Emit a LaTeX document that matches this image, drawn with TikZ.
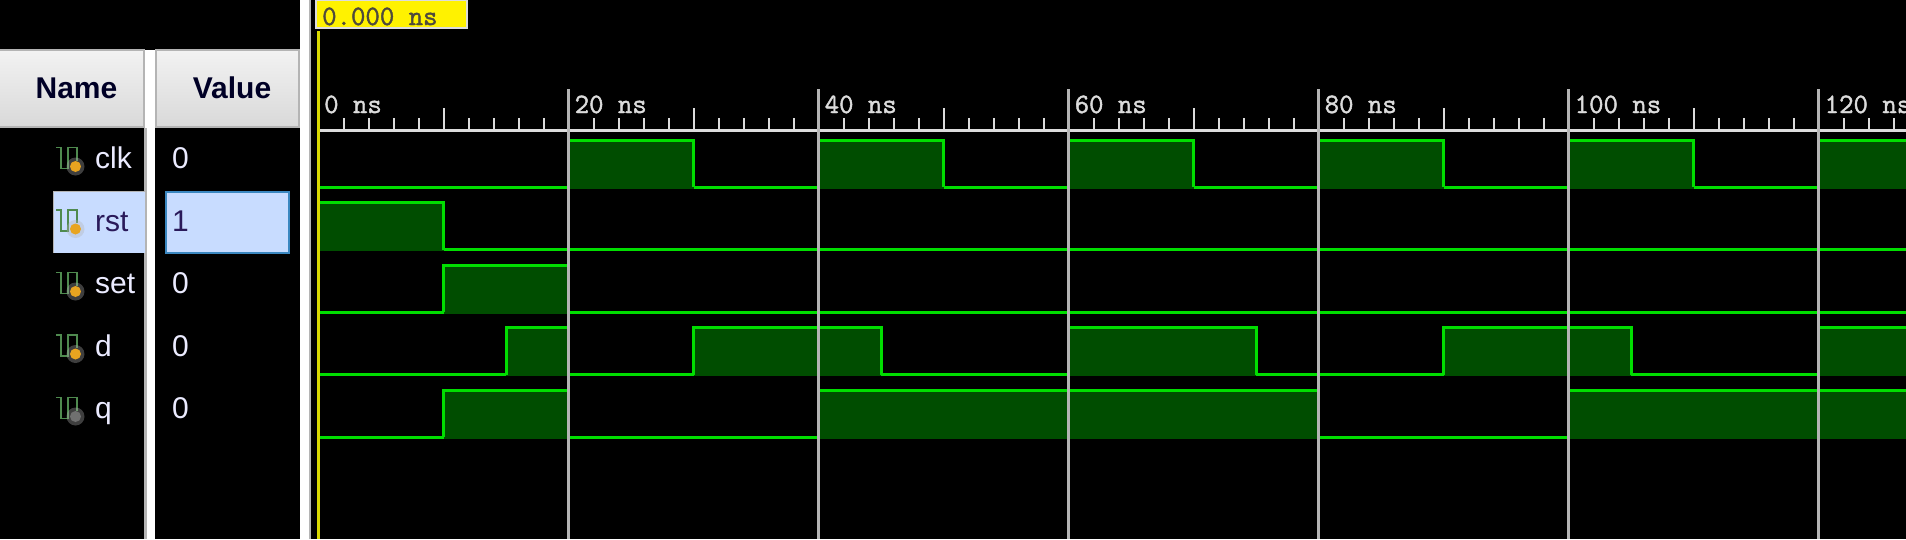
\documentclass[tikz,border=0pt]{standalone}
\usepackage{fontspec}
\setmainfont{Liberation Sans}
\newfontfamily\rulerfont[FakeBold=1.5]{Latin Modern Mono}
\usepackage{xcolor}
\usetikzlibrary{positioning, calc}

\definecolor{wavegreen}{HTML}{00DE00}
\definecolor{wavedark}{HTML}{004D00}
\definecolor{gridgray}{HTML}{B4B4B4}
\definecolor{rulergray}{HTML}{DCDCDC}
\definecolor{cursoryellow}{HTML}{D8D800}
\definecolor{selectblue}{HTML}{C8DCFF}
\definecolor{selectedge}{HTML}{3A87C0}
\definecolor{selecttext}{HTML}{2A1A5A}
\definecolor{icongreen}{HTML}{4F8A4F}
\definecolor{ballorange}{HTML}{E8A420}
\definecolor{ballgray}{HTML}{707070}

\begin{document}
\begin{tikzpicture}[x=1pt, y=-1pt,
    header/.style={draw=gridgray, line width=1.5pt, top color=white!95!black, bottom color=white!85!black},
    headtext/.style={font=\fontsize{30}{33}\selectfont\bfseries, text=black!85!blue, inner sep=0pt, anchor=base},
    rowtext/.style={font=\fontsize{30}{33}\selectfont, text=white!92!blue, inner sep=0pt, anchor=base west},
    seltext/.style={rowtext, text=selecttext},
    timetext/.style={font=\fontsize{28}{30}\selectfont\rulerfont, inner sep=0pt, anchor=base west},
    wave/.style={draw=wavegreen, line width=3pt, line join=miter},
    wavefill/.style={fill=wavedark},
    icon/.style={draw=icongreen, line width=1.6pt},
]
\useasboundingbox (0,0) rectangle (1906,539);
\clip (0,0) rectangle (1906,539);
\fill[black] (0,0) rectangle (1906,539);

% panel separators
\fill[white] (145,50) rectangle (155,539);
\fill[gridgray] (144,128) rectangle (146.5,539);
\fill[white] (300,0) rectangle (310,539);
\fill[gridgray] (308.5,0) rectangle (310.5,539);

% column headers
\draw[header] (-2,50) rectangle (144,127);
\draw[header] (156,50) rectangle (299,127);
\node[headtext] (namehead) at (76.5,98) {Name};
\node[headtext] (valuehead) at (232,98) {Value};

% selected row
\fill[selectblue] (53,191) rectangle (145,253);
\draw[gridgray, line width=1pt] (53,253) -- (53,191) -- (145,191);
\draw[selectedge, fill=selectblue, line width=2pt] (166,192) rectangle (289,253);

% signal names, values, icons
\foreach \i/\sig/\val/\ballcol in {0/clk/0/ballorange,1/rst/1/ballorange,2/set/0/ballorange,3/d/0/ballorange,4/q/0/ballgray} {
    \pgfmathsetmacro{\base}{168.5+\i*62.5}
    \ifnum\i=1
        \node[seltext] (name\sig) at (95,\base) {\sig};
        \node[seltext] (value\sig) at (172,\base) {\val};
    \else
        \node[rowtext] (name\sig) at (95,\base) {\sig};
        \node[rowtext] (value\sig) at (172,\base) {\val};
    \fi
    \draw[icon] (56,\base-21) -- (61,\base-21) -- (61,\base) -- (68,\base) -- (68,\base-21) -- (77,\base-21) -- (77,\base-8);
    \fill[white!70!black, opacity=0.35] (75.5,\base-2) circle (9);
    \fill[\ballcol] (75.5,\base-2) circle (5.5);
}

% waveforms
\begin{scope}[shift={(318.5,0)}, x=12.5pt]
    \foreach \i/\highs in {0/{20/30,40/50,60/70,80/90,100/110,120/128},
                           1/{0/10},
                           2/{10/20},
                           3/{15/20,30/45,60/75,90/105,120/128},
                           4/{10/20,40/80,100/128}} {
        \pgfmathsetmacro{\low}{187+\i*62.5}
        \pgfmathsetmacro{\high}{\low-47}
        \draw[wave] (0,\low) -- (128,\low);
        \foreach \a/\b in \highs {
            \fill[wavefill] (\a,\high) rectangle (\b,\low+1.5);
        }
        \foreach \a/\b in \highs {
            \draw[wave] (\a,\low) -- (\a,\high) -- (\b,\high) -- (\b,\low);
        }
    }
\end{scope}

% time ruler
\draw[rulergray, line width=3pt] (318.5,130) -- (1906,130);
\foreach \t in {1,...,63} {
    \pgfmathsetmacro{\xpos}{318.5+\t*25}
    \pgfmathtruncatemacro{\rest}{mod(\t,5)}
    \ifnum\rest=0
        \draw[rulergray, line width=2pt] (\xpos,130) -- (\xpos,108);
    \else
        \draw[rulergray, line width=2pt] (\xpos,130) -- (\xpos,118);
    \fi
}
\foreach \n in {20,40,...,120} {
    \pgfmathsetmacro{\xpos}{318.5+\n*12.5}
    \draw[gridgray, line width=3pt] (\xpos,89) -- (\xpos,539);
    \node[timetext, text=rulergray] (label\n) at (\xpos+6,113) {\n{} ns};
}
\node[timetext, text=rulergray] (labelzero) at (324,113) {0 ns};

% cursor
\draw[cursoryellow, line width=3pt] (318.5,31) -- (318.5,539);
\draw[rulergray, fill=yellow, line width=2pt] (316,0) rectangle (467,28);
\node[timetext, text=black!80!yellow] (cursortime) at (322,25) {0.000 ns};

\end{tikzpicture}
\end{document}
